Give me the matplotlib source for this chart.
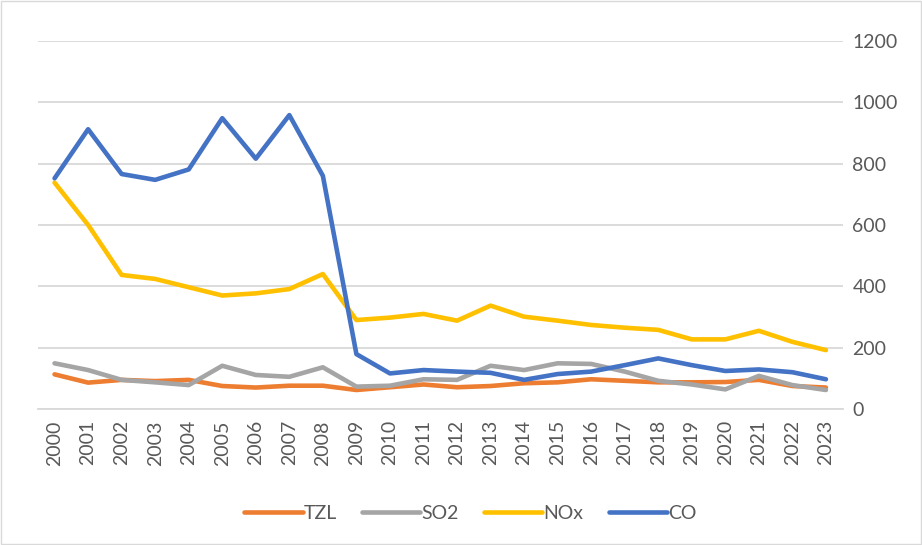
import numpy as np
import matplotlib.pyplot as plt
from matplotlib.patches import Rectangle

plt.rcParams['font.family'] = ['Lato', 'DejaVu Sans']

years = [str(y) for y in range(2000, 2024)]
tzl = [113, 86, 95, 91, 95, 75, 70, 76, 76, 62, 71, 80, 71, 75, 84, 87, 97, 92, 87, 87, 88, 95, 75, 70]
so2 = [149, 127, 95, 87, 78, 141, 111, 105, 136, 73, 76, 97, 95, 141, 127, 149, 147, 122, 92, 80, 64, 108, 78, 62]
nox = [738, 600, 437, 424, 397, 370, 377, 391, 440, 290, 298, 310, 288, 337, 301, 288, 274, 265, 258, 227, 227, 255, 219, 192]
co = [752, 912, 766, 747, 781, 948, 816, 958, 760, 179, 116, 127, 122, 118, 95, 114, 122, 143, 165, 143, 124, 129, 120, 97]

series = [("TZL", tzl, "#ED7D31"), ("SO2", so2, "#A5A5A5"),
          ("NOx", nox, "#FFC000"), ("CO", co, "#4472C4")]

fig = plt.figure(figsize=(9.22, 5.45), dpi=100)
ax = fig.add_axes([0.041, 0.2495, 0.873, 0.6755])
x = np.arange(len(years))
for name, vals, col in series:
    ax.plot(x, vals, color=col, lw=3.3, label=name, solid_capstyle='round', solid_joinstyle='round')

ax.set_xlim(-0.5, len(years) - 0.5)
ax.set_ylim(0, 1200)
ax.set_yticks(range(0, 1201, 200))
ax.yaxis.tick_right()
ax.grid(axis='y', color='#D9D9D9', lw=1.3)
ax.set_axisbelow(True)
for s in ax.spines.values():
    s.set_visible(False)
ax.spines['bottom'].set_visible(True)
ax.spines['bottom'].set_color('#D9D9D9')
ax.spines['bottom'].set_linewidth(1.3)
ax.set_xticks(x)
ax.set_xticklabels(years, rotation=90)
ax.tick_params(axis='both', length=0, labelsize=14, labelcolor='#595959')
ax.tick_params(axis='y', pad=7)
ax.tick_params(axis='x', pad=8)

fig.legend(loc='center', bbox_to_anchor=(0.51, 0.058), ncol=4, frameon=False,
           fontsize=14, labelcolor='#595959', handlelength=3.0, handletextpad=0.05,
           columnspacing=1.3)

fig.patches.append(Rectangle((0.001, 0.001), 0.998, 0.998, transform=fig.transFigure,
                             fill=False, edgecolor='#D9D9D9', lw=1))
fig.savefig("out.png", dpi=100)
